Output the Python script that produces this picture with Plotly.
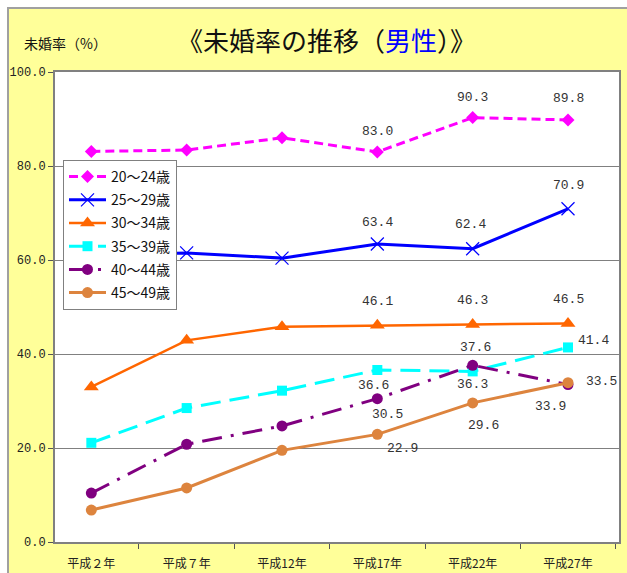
import plotly.graph_objects as go

categories = ["平成２年", "平成７年", "平成12年", "平成17年", "平成22年", "平成27年"]
series_names = ["20～24歳", "25～29歳", "30～34歳", "35～39歳", "40～44歳", "45～49歳"]

v20_24 = [83.1, 83.4, 86.0, 83.0, 90.3, 89.8]
v25_29 = [61.0, 61.5, 60.4, 63.4, 62.4, 70.9]
v30_34 = [33.0, 42.9, 45.8, 46.1, 46.3, 46.5]
v35_39 = [21.1, 28.5, 32.2, 36.6, 36.3, 41.4]
v40_44 = [10.4, 20.8, 24.7, 30.5, 37.6, 33.5]
v45_49 = [6.8, 11.5, 19.5, 22.9, 29.6, 33.9]

values = [v20_24, v25_29, v30_34, v35_39, v40_44, v45_49]

styles = [
    dict(color="#FF00FF", dash="9px,5px", width=3, symbol="diamond", msize=10, mline=0),
    dict(color="#0000FF", dash="solid", width=3, symbol="x-thin-open", msize=13, mline=1.2),
    dict(color="#FF6600", dash="solid", width=2.5, symbol="triangle-up", msize=13, mline=0),
    dict(color="#00FFFF", dash="20px,9px", width=3, symbol="square", msize=10, mline=0),
    dict(color="#800080", dash="20px,9px,3px,9px", width=3, symbol="circle", msize=11, mline=0),
    dict(color="#DD843E", dash="solid", width=3, symbol="circle", msize=11, mline=0),
]

# data labels: (series, point index, xshift, yshift, xanchor)
label_specs = [
    (0, 3, 0, 20, "center"), (0, 4, 0, 20, "center"), (0, 5, 0, 21, "center"),
    (1, 3, 0, 22, "center"), (1, 4, -2, 24, "center"), (1, 5, 0, 23, "center"),
    (2, 3, 0, 24, "center"), (2, 4, 0, 24, "center"), (2, 5, 0, 24, "center"),
    (3, 3, -4, -16, "center"), (3, 4, 0, -13, "center"), (3, 5, 8, 7, "left"),
    (4, 3, 10, -16, "center"), (4, 4, 3, 18, "center"), (4, 5, 16, 3, "left"),
    (5, 3, 25, -14, "center"), (5, 4, 11, -23, "center"), (5, 5, -18, -24, "center"),
]

PL, PR, PT, PB = 55, 619, 72, 542  # plot area in page pixels
W, H = 627, 573


def px(xp):
    return (xp - PL) / (PR - PL)


def py(yp):
    return (PB - yp) / (PB - PT)


fig = go.Figure()
for k, (name, vals, st) in enumerate(zip(series_names, values, styles)):
    fig.add_trace(go.Scatter(
        x=categories, y=vals, name=name, mode="lines+markers", legendgroup=f"g{k}",
        line=dict(color=st["color"], dash=st["dash"], width=st["width"]),
        marker=dict(symbol=st["symbol"], size=st["msize"], color=st["color"],
                    line=dict(width=st["mline"], color=st["color"])),
    ))

annotations = []
mono = "Liberation Mono, DejaVu Sans Mono, monospace"
for s, i, dx, dy, xa in label_specs:
    annotations.append(dict(
        x=categories[i], y=values[s][i], xref="x", yref="y",
        text=f"{values[s][i]:.1f}", showarrow=False,
        xshift=dx, yshift=dy, xanchor=xa, yanchor="middle",
        font=dict(family=mono, size=13, color="#333333"),
    ))

annotations.append(dict(
    x=px(326), y=py(39), xref="paper", yref="paper",
    text="《未婚率の推移（<span style='color:#0000FF'>男性</span>）》",
    showarrow=False, xanchor="center", yanchor="middle",
    font=dict(family="Noto Sans CJK JP", size=26, color="#111111"),
))
annotations.append(dict(
    x=px(22), y=py(43), xref="paper", yref="paper",
    text="未婚率（%）", showarrow=False, xanchor="left", yanchor="middle",
    font=dict(family="Noto Sans CJK JP", size=14, color="#111111"),
))

fig.update_layout(
    width=W, height=H,
    margin=dict(l=PL, r=W - PR, t=PT, b=H - PB, autoexpand=False),
    paper_bgcolor="white", plot_bgcolor="white",
    showlegend=True,
    legend=dict(
        x=px(63), y=py(160), xanchor="left", yanchor="top",
        bgcolor="white", bordercolor="#808080", borderwidth=1,
        font=dict(family="Noto Sans CJK JP", size=14, color="#111111"),
        tracegroupgap=2, itemwidth=37,
    ),
    annotations=annotations,
    shapes=[
        # pale yellow chart frame (drawn beneath the white plot area)
        dict(type="rect", xref="paper", yref="paper", layer="below",
             x0=px(8), x1=px(660), y0=py(8), y1=py(620),
             fillcolor="#FFFF99", line=dict(color="#A0A0A0", width=2)),
        dict(type="rect", xref="paper", yref="paper", layer="below",
             x0=0, x1=1, y0=0, y1=1,
             fillcolor="white", line=dict(width=0)),
    ],
    xaxis=dict(
        type="category", tickson="boundaries", ticks="outside", ticklen=5,
        tickcolor="#555555", showline=True, mirror=True, linecolor="#808080", linewidth=2,
        showgrid=False, ticklabelstandoff=10, automargin=False,
        tickfont=dict(family="Noto Sans CJK JP", size=12, color="#222222"),
    ),
    yaxis=dict(
        range=[0, 100], dtick=20, tickformat=".1f", ticks="outside", ticklen=5,
        tickcolor="#555555", showline=True, mirror=True, linecolor="#808080", linewidth=2,
        showgrid=True, gridcolor="#808080", gridwidth=1, zeroline=False,
        ticklabelstandoff=0, automargin=False,
        tickfont=dict(family=mono, size=12, color="#222222"),
    ),
)

fig.write_html(
    "out.html",
    config={"displayModeBar": False},
    post_script="document.body.style.margin='0px';document.documentElement.style.overflow='hidden';",
)
